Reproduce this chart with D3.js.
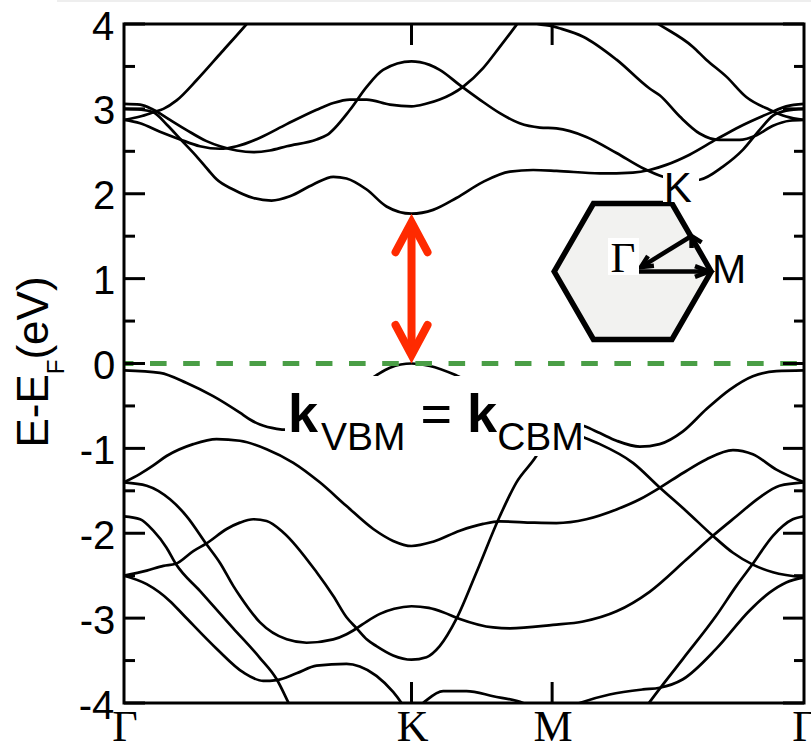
<!DOCTYPE html>
<html><head><meta charset="utf-8">
<script src="https://cdn.jsdelivr.net/npm/d3@7"></script>
<style>html,body{margin:0;padding:0;background:#fff;}svg{display:block;}</style>
</head><body>
<svg id="c" width="811" height="745"></svg>
<script>
// ---------- data ----------
const kTicks = [0, 1, 1.489, 2.365];
const kTickLabels = ["Γ", "K", "M", "Γ"];
const eMajor = [-4, -3, -2, -1, 0, 1, 2, 3, 4];
const eMinor = [-3.5, -2.5, -1.5, -0.5, 0.5, 1.5, 2.5, 3.5];
const eFermi = 0, eCBM = 1.765, eVBM = 0, kGap = 1;

// conduction bands [k, E]
const cbA = [[0,2.87],[0.056,2.91],[0.102,2.96],[0.137,3.0],[0.183,3.1],[0.253,3.34],[0.34,3.67],[0.4265,4.0],[0.5,4.3]];
const cbB = [[0,3.06],[0.056,3.05],[0.102,2.99],[0.16,2.87],[0.218,2.75],[0.287,2.62],[0.334,2.56],[0.392,2.51],[0.45,2.49],[0.507,2.51],[0.566,2.56],[0.67,2.64],[0.705,2.69],[0.786,2.99],[0.844,3.26],[0.901,3.46],[1.0,3.56],[1.029,3.55],[1.098,3.46],[1.168,3.28],[1.237,3.11],[1.307,2.95],[1.376,2.83],[1.446,2.78],[1.504,2.77],[1.608,2.67],[1.713,2.48],[1.805,2.30],[1.875,2.20],[1.94,2.15],[2.002,2.165],[2.083,2.32],[2.153,2.52],[2.21,2.75],[2.257,2.92],[2.303,2.98],[2.365,3.0]];
const cbC = [[0,2.87],[0.056,2.83],[0.125,2.73],[0.195,2.64],[0.264,2.56],[0.334,2.53],[0.392,2.56],[0.473,2.66],[0.566,2.82],[0.67,2.99],[0.728,3.07],[0.786,3.11],[0.844,3.11],[0.925,3.05],[1.0,3.03],[1.05,3.06],[1.098,3.11],[1.179,3.26],[1.249,3.48],[1.307,3.73],[1.365,3.99],[1.42,4.25]];
const cbD = [[0,3.0],[0.06,2.99],[0.102,2.96],[0.15,2.81],[0.2,2.63],[0.25,2.45],[0.293,2.28],[0.322,2.17],[0.38,2.05],[0.45,1.95],[0.513,1.92],[0.577,1.97],[0.658,2.11],[0.728,2.2],[0.774,2.18],[0.844,2.05],[0.913,1.85],[1.0,1.765],[1.075,1.81],[1.156,1.95],[1.249,2.14],[1.342,2.26],[1.423,2.28],[1.504,2.27],[1.655,2.24],[1.77,2.25],[1.828,2.28],[1.886,2.34],[1.967,2.46],[2.06,2.64],[2.141,2.79],[2.245,2.95],[2.303,3.03],[2.365,3.06]];
const cbE = [[1.38,4.1],[1.44,4.0],[1.489,3.975],[1.515,3.95],[1.597,3.85],[1.713,3.58],[1.828,3.24],[1.863,3.16],[1.933,2.91],[2.002,2.71],[2.071,2.635],[2.141,2.635],[2.2,2.69],[2.257,2.80],[2.315,2.86],[2.365,2.87]];
const cbF = [[1.8,4.12],[1.863,3.99],[1.979,3.73],[2.025,3.58],[2.095,3.38],[2.164,3.14],[2.245,2.99],[2.303,2.91],[2.365,2.87]];

// valence bands [k, E]
const vb1 = [[0,-0.08],[0.125,-0.11],[0.218,-0.23],[0.31,-0.385],[0.403,-0.58],[0.438,-0.66],[0.473,-0.72],[0.531,-0.77],[0.566,-0.78],[0.72,-0.55],[0.877,-0.14],[0.925,-0.05],[1.0,0.0],[1.064,-0.03],[1.156,-0.14],[1.35,-0.5],[1.489,-0.66],[1.602,-0.74],[1.655,-0.82],[1.713,-0.91],[1.794,-0.98],[1.863,-0.95],[1.944,-0.80],[2.025,-0.54],[2.106,-0.31],[2.187,-0.15],[2.269,-0.09],[2.365,-0.08]];
const vb2 = [[0,-1.40],[0.056,-1.30],[0.102,-1.20],[0.148,-1.09],[0.241,-0.95],[0.322,-0.89],[0.403,-0.91],[0.496,-1.01],[0.589,-1.17],[0.681,-1.40],[0.774,-1.68],[0.867,-1.95],[0.936,-2.09],[1.0,-2.15],[1.075,-2.10],[1.168,-1.97],[1.249,-1.89],[1.307,-1.86],[1.423,-1.875],[1.504,-1.88],[1.608,-1.835],[1.713,-1.72],[1.794,-1.60],[1.863,-1.465],[1.944,-1.29],[2.025,-1.13],[2.118,-1.02],[2.187,-1.07],[2.269,-1.25],[2.365,-1.40]];
const vb3 = [[0,-1.40],[0.079,-1.44],[0.16,-1.60],[0.218,-1.80],[0.287,-2.13],[0.334,-2.35],[0.38,-2.62],[0.403,-2.74],[0.473,-3.05],[0.566,-3.25],[0.635,-3.29],[0.728,-3.25],[0.774,-3.19],[0.809,-3.12],[0.844,-3.04],[0.89,-2.95],[0.94,-2.89],[1.0,-2.86],[1.06,-2.88],[1.11,-2.93],[1.168,-3.01],[1.284,-3.11],[1.342,-3.12],[1.492,-3.08],[1.597,-3.04],[1.713,-2.92],[1.828,-2.69],[1.956,-2.31],[2.048,-2.03],[2.13,-1.80],[2.21,-1.58],[2.28,-1.44],[2.365,-1.40]];
const vb4 = [[0,-2.50],[0.079,-2.44],[0.137,-2.385],[0.18,-2.36],[0.241,-2.21],[0.287,-2.12],[0.357,-1.95],[0.403,-1.875],[0.45,-1.835],[0.496,-1.855],[0.554,-1.99],[0.67,-2.46],[0.728,-2.74],[0.774,-2.99],[0.809,-3.12],[0.844,-3.25],[0.878,-3.33],[0.936,-3.44],[1.0,-3.49],[1.052,-3.46],[1.098,-3.33],[1.156,-3.01],[1.226,-2.46],[1.307,-1.80],[1.365,-1.40],[1.434,-1.09],[1.489,-0.75],[1.602,-0.875],[1.655,-0.95],[1.77,-1.17],[1.863,-1.46],[1.956,-1.74],[2.048,-2.03],[2.118,-2.23],[2.187,-2.37],[2.257,-2.46],[2.365,-2.52]];
const vb5 = [[0,-1.80],[0.056,-1.835],[0.102,-1.97],[0.148,-2.17],[0.18,-2.36],[0.264,-2.68],[0.38,-3.12],[0.473,-3.47],[0.531,-3.72],[0.571,-3.99],[0.6,-4.2]];
const vb6 = [[0,-2.50],[0.079,-2.60],[0.16,-2.80],[0.206,-2.96],[0.322,-3.36],[0.415,-3.64],[0.484,-3.74],[0.531,-3.73],[0.6,-3.65],[0.67,-3.56],[0.774,-3.54],[0.82,-3.57],[0.878,-3.68],[0.936,-3.87],[0.965,-4.0],[1.0,-4.2]];
const vb7 = [[0.99,-4.15],[1.04,-4.0],[1.11,-3.86],[1.191,-3.86],[1.284,-3.92],[1.388,-4.0],[1.45,-4.1]];
const vb8 = [[1.5,-4.12],[1.585,-4.0],[1.689,-3.9],[1.805,-3.84],[1.863,-3.82],[1.944,-3.72],[2.06,-3.36],[2.176,-2.91],[2.245,-2.70],[2.303,-2.58],[2.365,-2.52]];
const vb9 = [[1.8,-4.12],[1.828,-3.99],[1.944,-3.48],[2.06,-2.97],[2.13,-2.62],[2.187,-2.36],[2.257,-2.03],[2.326,-1.835],[2.365,-1.80]];

const bands = [cbA, cbB, cbC, cbD, cbE, cbF, vb1, vb2, vb3, vb4, vb5, vb6, vb7, vb8, vb9];

// ---------- drawing ----------
const L = 124, R = 804, T = 24, B = 703;
const svg = d3.select("#c");
const x = d3.scaleLinear().domain([0, 2.365]).range([L, R]);
const y = d3.scaleLinear().domain([-4, 4]).range([B, T]);
const SANS = "'Liberation Sans', Arial, Helvetica, sans-serif";
const SERIF = "'Liberation Serif', 'Times New Roman', serif";

svg.append("rect").attr("x", 57).attr("y", 0).attr("width", 754).attr("height", 2).attr("fill", "#eeeeee");

svg.append("clipPath").attr("id", "clip").append("rect")
  .attr("x", L).attr("y", T).attr("width", R - L).attr("height", B - T);

const line = d3.line().x(d => x(d[0])).y(d => y(d[1])).curve(d3.curveMonotoneX);
svg.append("g").attr("clip-path", "url(#clip)")
  .selectAll("path").data(bands).join("path")
  .attr("d", line).attr("fill", "none").attr("stroke", "#000")
  .attr("stroke-width", 2.7).attr("stroke-linejoin", "round");

// Fermi level
svg.append("line").attr("x1", x(0)).attr("x2", 797).attr("y1", y(eFermi)).attr("y2", y(eFermi))
  .attr("stroke", "#4a9e46").attr("stroke-width", 5)
  .attr("stroke-dasharray", "16.6,16.57").attr("stroke-dashoffset", 7.17);

// red double arrow (gap at K)
(function () {
  const ax = x(kGap), yTop = y(eCBM), yBot = y(eVBM);
  const col = "#ff2a00", sw = 8, ext = 8.5, armDy = 30, armDx = 16;
  const g = svg.append("g").attr("fill", "none").attr("stroke", col).attr("stroke-width", sw)
    .attr("stroke-linecap", "round").attr("stroke-linejoin", "miter").attr("stroke-miterlimit", 10);
  g.append("line").attr("x1", ax).attr("x2", ax).attr("y1", yTop + 12).attr("y2", yBot - 12).attr("stroke-linecap", "butt");
  const vt = yTop + ext, vb = yBot - ext;
  g.append("path").attr("d", `M${ax - armDx},${vt + armDy}L${ax},${vt}L${ax + armDx},${vt + armDy}`);
  g.append("path").attr("d", `M${ax - armDx},${vb - armDy}L${ax},${vb}L${ax + armDx},${vb - armDy}`);
})();

// k_VBM = k_CBM label with white background
svg.append("rect").attr("x", 285).attr("y", 376).attr("width", 299).attr("height", 80).attr("fill", "#fff");
(function () {
  const t = svg.append("text").attr("x", 288).attr("y", 432)
    .style("font-family", SANS).style("font-size", "54px").attr("fill", "#000");
  t.append("tspan").style("font-weight", "bold").text("k");
  t.append("tspan").attr("dx", 3).attr("dy", 18).style("font-size", "39px").text("VBM");
  t.append("tspan").attr("dy", -18).style("font-weight", "normal").text("\u00a0=\u00a0");
  t.append("tspan").style("font-weight", "bold").text("k");
  t.append("tspan").attr("dy", 18).style("font-size", "39px").text("CBM");
})();

// inset Brillouin zone
(function () {
  const cx = 632.7, cy = 271.5, rr = 78.5;
  const pts = d3.range(6).map(i => [cx + rr * Math.cos(i * Math.PI / 3), cy - rr * Math.sin(i * Math.PI / 3)]);
  svg.append("polygon").attr("points", pts.map(p => p.join(",")).join(" "))
    .attr("fill", "#f2f2f0").attr("stroke", "#000").attr("stroke-width", 5.5).attr("stroke-linejoin", "miter");

  const g = svg.append("g").attr("stroke", "#000").attr("fill", "none").attr("stroke-width", 4.5).attr("stroke-linecap", "butt");
  function head(tip, from, len, ang) {
    const dx = tip[0] - from[0], dy = tip[1] - from[1], n = Math.hypot(dx, dy);
    const bx = -dx / n, by = -dy / n;
    const r = a => [bx * Math.cos(a) - by * Math.sin(a), bx * Math.sin(a) + by * Math.cos(a)];
    const a1 = r(ang), a2 = r(-ang);
    g.append("path").attr("d", `M${tip[0] + a1[0] * len},${tip[1] + a1[1] * len}L${tip[0]},${tip[1]}L${tip[0] + a2[0] * len},${tip[1] + a2[1] * len}`)
      .attr("stroke-linejoin", "miter");
  }
  const G = [639, 271.5], Mp = [709, 271.5], Kp = [691.5, 236], Gt = [641, 267];
  g.append("line").attr("x1", G[0]).attr("y1", G[1]).attr("x2", Mp[0] - 2).attr("y2", Mp[1]);
  head(Mp, G, 15, 0.36);
  g.append("line").attr("x1", Kp[0]).attr("y1", Kp[1]).attr("x2", Gt[0] + 2).attr("y2", Gt[1] - 1.2);
  head(Gt, Kp, 13, 0.45);
  head(Kp, pts[0], 12, 0.5);

  // labels with white boxes
  svg.append("rect").attr("x", 663).attr("y", 169).attr("width", 36).attr("height", 33).attr("fill", "#fff");
  svg.append("text").attr("x", 663.7).attr("y", 201.7).style("font-family", SANS).style("font-size", "42px").text("K");
  svg.append("rect").attr("x", 608).attr("y", 238).attr("width", 31).attr("height", 37).attr("fill", "#fff");
  svg.append("text").attr("x", 610.5).attr("y", 271.7).style("font-family", SERIF).style("font-size", "43px").text("Γ");
  svg.append("text").attr("x", 712).attr("y", 282.7).style("font-family", SANS).style("font-size", "41px").text("M");
})();

// frame and ticks
const ax = svg.append("g").attr("stroke", "#000").attr("stroke-width", 3);
ax.append("rect").attr("x", L).attr("y", T).attr("width", R - L).attr("height", B - T).attr("fill", "none");
eMajor.forEach(e => {
  ax.append("line").attr("x1", L).attr("x2", L + 21).attr("y1", y(e)).attr("y2", y(e));
  ax.append("line").attr("x1", R).attr("x2", R - 21).attr("y1", y(e)).attr("y2", y(e));
});
eMinor.forEach(e => {
  ax.append("line").attr("x1", L).attr("x2", L + 11).attr("y1", y(e)).attr("y2", y(e));
  ax.append("line").attr("x1", R).attr("x2", R - 10).attr("y1", y(e)).attr("y2", y(e));
});
kTicks.slice(1, 3).forEach(k => {
  ax.append("line").attr("x1", x(k)).attr("x2", x(k)).attr("y1", T).attr("y2", T + 21);
  ax.append("line").attr("x1", x(k)).attr("x2", x(k)).attr("y1", B).attr("y2", B - 21);
});

// y tick labels, aligned by ink right edge
const ctx = document.createElement("canvas").getContext("2d");
ctx.font = "40px 'Liberation Sans'";
svg.append("g").selectAll("text").data(eMajor).join("text")
  .attr("x", e => { const s = String(e), m = ctx.measureText(s); return 114 + m.width - m.actualBoundingBoxRight; })
  .attr("y", e => y(e) + 15.5)
  .attr("text-anchor", "end").style("font-family", SANS).style("font-size", "40px")
  .text(e => String(e));

// x tick labels
svg.append("g").selectAll("text").data(kTicks).join("text")
  .attr("x", k => x(k) + 1).attr("y", 741)
  .attr("text-anchor", "middle").style("font-family", SERIF).style("font-size", "44px")
  .text((k, i) => kTickLabels[i]);

// y axis title
(function () {
  const t = svg.append("text").attr("transform", "translate(48,362) rotate(-90)")
    .attr("text-anchor", "middle").style("font-family", SANS).style("font-size", "44px");
  t.append("tspan").text("E-E");
  t.append("tspan").attr("dy", 16).style("font-size", "24px").text("F");
  t.append("tspan").attr("dy", -16).text("(eV)");
})();
</script>
</body></html>
